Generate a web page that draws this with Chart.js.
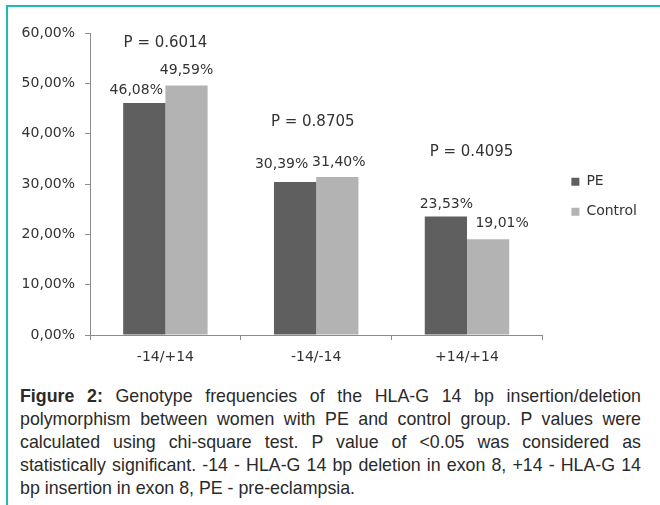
<!DOCTYPE html>
<html>
<head>
<meta charset="utf-8">
<script src="https://cdn.jsdelivr.net/npm/chart.js@4.4.1/dist/chart.umd.min.js"></script>
<style>
  body { margin: 0; background: #fff; }
  #frame { position: absolute; left: 6px; top: 5px; width: 660px; height: 520px;
           border-left: 2px solid #1cbfae; border-top: 2px solid #1cbfae; }
  #wrap { position: absolute; left: 0; top: 0; width: 660px; height: 380px; }
  #caption { position: absolute; left: 20px; top: 385px; width: 621px; margin: 0;
             font-family: "Liberation Sans", Arial, sans-serif; font-size: 17.8px;
             line-height: 23px; color: #2a2a2a; text-align: justify; }
</style>
</head>
<body>
<div id="frame"></div>
<div id="wrap"><canvas id="chart" width="660" height="380"></canvas></div>
<p id="caption"><b>Figure 2:</b> Genotype frequencies of the HLA-G 14 bp insertion/deletion polymorphism between women with PE and control group. P values were calculated using chi-square test. P value of &lt;0.05 was considered as statistically significant. -14 - HLA-G 14 bp deletion in exon 8, +14 - HLA-G 14 bp insertion in exon 8, PE - pre-eclampsia.</p>
<script>
const categories = ['-14/+14', '-14/-14', '+14/+14'];
const peValues = [46.08, 30.39, 23.53];
const controlValues = [49.59, 31.40, 19.01];
const pValues = ['0.6014', '0.8705', '0.4095'];
const yTicks = [0, 10, 20, 30, 40, 50, 60];

const fmt = v => v.toFixed(2).replace('.', ',') + '%';
const axisColor = '#8c8c8c';
const textFont = { family: 'DejaVu Sans', size: 14 };

// value labels above bars + the p value over each group
const barLabels = {
  id: 'barLabels',
  afterDatasetsDraw(chart, args, opts) {
    const ctx = chart.ctx;
    ctx.save();
    ctx.fillStyle = opts.color;
    ctx.textAlign = 'center';
    ctx.font = opts.font;
    ctx.textBaseline = 'alphabetic';
    chart.data.datasets.forEach((ds, i) => {
      chart.getDatasetMeta(i).data.forEach((bar, j) => {
        ctx.fillText(fmt(ds.data[j]), bar.x + opts.dx[i][j], bar.y + opts.dy[i][j]);
      });
    });
    const x = chart.scales.x, y = chart.scales.y;
    ctx.font = opts.pFont;
    ctx.textBaseline = 'middle';
    pValues.forEach((p, j) => {
      ctx.fillText('P = ' + p, x.getPixelForValue(j) + opts.pDx[j], y.getPixelForValue(opts.pLevels[j]));
    });
    ctx.restore();
  }
};

new Chart(document.getElementById('chart'), {
  type: 'bar',
  data: {
    labels: categories,
    datasets: [
      { label: 'PE', data: peValues, backgroundColor: '#5f5f5f' },
      { label: 'Control', data: controlValues, backgroundColor: '#b3b3b3' }
    ]
  },
  options: {
    responsive: false,
    animation: false,
    layout: { padding: { top: 33, right: 13, bottom: 0, left: 0 } },
    datasets: { bar: { categoryPercentage: 0.56, barPercentage: 1 } },
    scales: {
      x: {
        grid: { drawOnChartArea: false, offset: true, tickLength: 5, color: axisColor },
        border: { color: axisColor },
        ticks: { font: textFont, color: '#333', padding: 9 },
        afterFit(s) { s.height = 45; }
      },
      y: {
        min: 0, max: 60,
        afterBuildTicks(s) { s.ticks = yTicks.map(v => ({ value: v })); },
        ticks: { callback: v => fmt(v), font: textFont, color: '#333', padding: 10 },
        grid: { drawOnChartArea: false, tickLength: 5, color: axisColor },
        border: { color: axisColor },
        afterFit(s) { s.width = 90; }
      },
      spacer: {
        type: 'linear', position: 'right', display: true,
        grid: { display: false }, ticks: { display: false }, border: { display: false },
        afterFit(s) { s.width = 13; }
      }
    },
    plugins: {
      legend: {
        position: 'right',
        fullSize: false,
        title: { display: true, text: ' ', padding: 5, font: { size: 13 } },
        labels: { boxWidth: 8, boxHeight: 8, padding: 16, font: textFont, color: '#333' }
      },
      tooltip: { enabled: false },
      barLabels: {
        color: '#333',
        font: '14px "DejaVu Sans"',
        pFont: '15px "DejaVu Sans"',
        dx: [[-8, -13.5, 0.5], [0, 1.5, 14]],
        dy: [[-9, -14, -8.6], [-11.5, -11, -12.7]],
        pDx: [0, -3.5, 4.5],
        pLevels: [58.0, 42.3, 36.4]
      }
    }
  },
  plugins: [barLabels]
});
</script>
</body>
</html>
